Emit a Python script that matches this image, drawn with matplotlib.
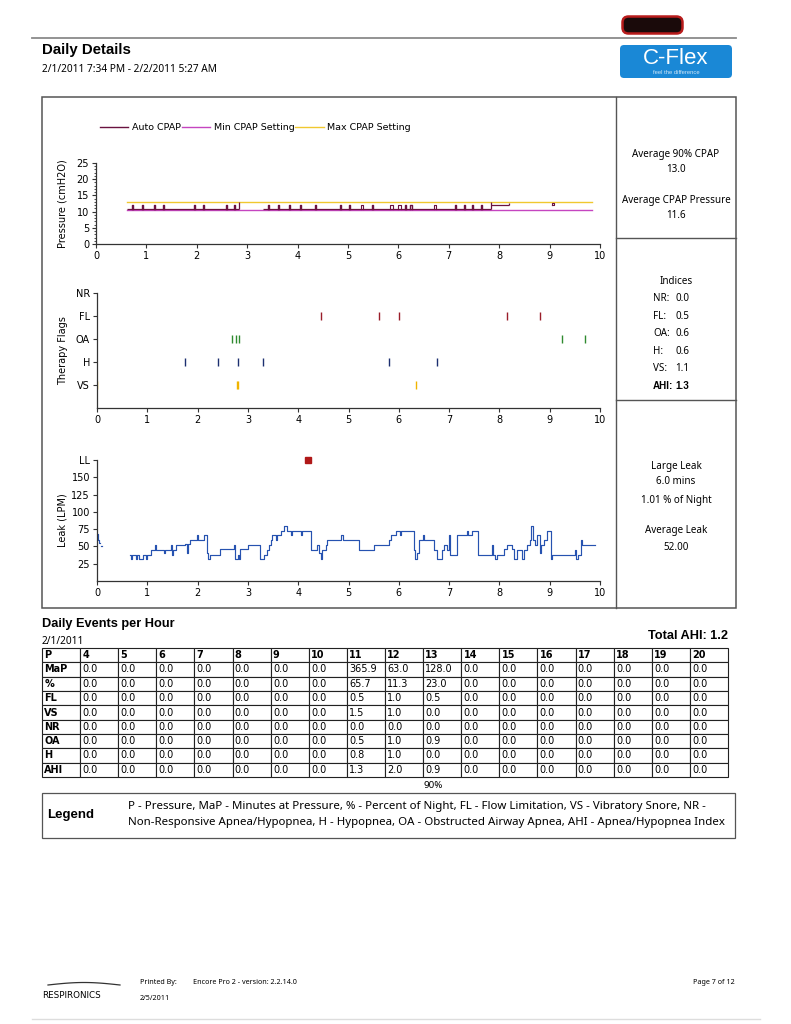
import numpy as np
import matplotlib.pyplot as plt
from matplotlib.patches import Rectangle, FancyBboxPatch
from matplotlib.ticker import MultipleLocator

plt.rcParams['font.family'] = ['DejaVu Sans']

# ---------------- data ----------------
hours = list(range(11))

# pressure chart (cmH2O)
auto_start = [0.62, 3.32]
auto_end = [2.83, 7.83]
auto_level = 10.9
auto_spikes = [0.72, 0.91, 1.15, 1.32, 1.95, 2.13, 2.58, 2.74, 3.42, 3.62,
               3.82, 4.05, 4.35, 4.85, 5.01, 5.48, 6.14, 6.24, 7.13, 7.30,
               7.46, 7.63]
auto_squares = [5.25, 5.84, 6.00, 6.70]
spike_top = 11.9
auto_rises = [2.83, 7.83]
rise_top = 13.0
high_start, high_end, high_level = 7.83, 8.19, 12.0
late_square = 9.05
min_setting = 10.4
max_setting = 13.0
setting_start, setting_end = 0.62, 9.85

# therapy flags (hours)
flag_names = ["VS", "H", "OA", "FL", "NR"]
flag_times = {
    "VS": [0.0, 2.78, 2.80, 6.35],
    "H": [1.75, 2.40, 2.80, 3.30, 5.80, 6.75],
    "OA": [2.68, 2.77, 2.82, 9.25, 9.70],
    "FL": [4.45, 5.60, 6.00, 8.15, 8.80],
    "NR": [],
}
flag_colors = {"VS": "#f0b400", "H": "#1c2f70", "OA": "#2f8a2f",
               "FL": "#9a1e2a", "NR": "#444444"}

# leak (LPM), step points
leak_t = [0.00, 0.02, 0.04, 0.06, 0.08, 0.10,
          0.65, 0.68, 0.70, 0.78, 0.80, 0.83, 0.92, 0.98, 1.00, 1.08, 1.15,
          1.17, 1.33, 1.36, 1.48, 1.50, 1.52, 1.58, 1.75, 1.78, 1.80, 1.85,
          1.98, 2.00, 2.13, 2.18, 2.20, 2.25, 2.45, 2.72, 2.75, 2.80, 2.82,
          2.85, 3.00, 3.25, 3.33, 3.37, 3.42, 3.45, 3.48, 3.55, 3.58, 3.65,
          3.72, 3.78, 3.85, 3.88, 4.05, 4.08, 4.25, 4.38, 4.42, 4.45, 4.48,
          4.55, 4.58, 4.85, 4.90, 5.20, 5.50, 5.80, 5.85, 5.95, 6.02, 6.05,
          6.30, 6.33, 6.36, 6.40, 6.48, 6.50, 6.70, 6.75, 6.85, 6.90, 6.95,
          7.00, 7.02, 7.15, 7.35, 7.38, 7.45, 7.58, 7.85, 7.88, 7.92, 7.95,
          8.10, 8.15, 8.25, 8.30, 8.35, 8.45, 8.48, 8.55, 8.60, 8.63, 8.66,
          8.70, 8.75, 8.80, 8.83, 8.88, 8.95, 9.02, 9.05, 9.50, 9.53, 9.56,
          9.63, 9.65, 9.90]
leak_v = [68, 60, 55, np.nan, 50, np.nan,
          38, 32, 38, 32, 38, 32, 38, 32, 38, 45, 52,
          45, 40, 45, 52, 38, 45, 52, 53, 40, 53, 60,
          67, 60, 67, 40, 32, 38, 46, 52, 32, 38, 32,
          46, 52, 32, 38, 45, 52, 60, 67, 60, 67, 73,
          80, 73, 67, 73, 67, 73, 45, 52, 40, 32, 45,
          52, 60, 67, 60, 45, 52, 60, 67, 73, 67, 73,
          45, 32, 40, 60, 67, 60, 45, 32, 45, 52, 45,
          67, 38, 67, 73, 67, 73, 38, 52, 38, 32, 38,
          46, 52, 46, 32, 45, 32, 45, 52, 60, 80, 60,
          52, 67, 40, 52, 60, 73, 32, 38, 45, 32, 38,
          60, 52, 52]
large_leak_t = [4.20]
large_leak_level = 175

# right column summaries
pressure_stats = [("Average 90% CPAP", "13.0"), ("Average CPAP Pressure", "11.6")]
indices = [("NR:", "0.0"), ("FL:", "0.5"), ("OA:", "0.6"), ("H:", "0.6"),
           ("VS:", "1.1"), ("AHI:", "1.3")]
leak_stats = ["Large Leak", "6.0 mins", "1.01 % of Night", "Average Leak", "52.00"]

# events per hour table
pressures = list(range(4, 21))
row_names = ["MaP", "%", "FL", "VS", "NR", "OA", "H", "AHI"]
zeros7 = [0.0] * 7
map_minutes = zeros7 + [365.9, 63.0, 128.0] + zeros7
pct_night = zeros7 + [65.7, 11.3, 23.0] + zeros7
fl_rate = zeros7 + [0.5, 1.0, 0.5] + zeros7
vs_rate = zeros7 + [1.5, 1.0, 0.0] + zeros7
nr_rate = zeros7 + [0.0, 0.0, 0.0] + zeros7
oa_rate = zeros7 + [0.5, 1.0, 0.9] + zeros7
h_rate = zeros7 + [0.8, 1.0, 0.0] + zeros7
ahi_rate = zeros7 + [1.3, 2.0, 0.9] + zeros7
total_ahi = 1.2

W, H = 791, 1024
fig = plt.figure(figsize=(W / 100, H / 100), dpi=100)

# page layer in pixel coordinates
page = fig.add_axes([0, 0, 1, 1])
page.set_xlim(0, W)
page.set_ylim(H, 0)
page.axis('off')

head = 'Liberation Sans'
body = 'Noto Sans'
page.plot([32, 736], [38, 38], color='#8a8a8a', lw=1.3)
page.add_patch(FancyBboxPatch((625, 19), 55, 12, boxstyle='round,pad=2.5,rounding_size=6',
                              fc='#1a0a0a', ec='#b81c1c', lw=1.8))
page.text(42, 50, "Daily Details", fontsize=10.8, fontweight='bold', family=head, va='center')
page.text(42, 70, "2/1/2011 7:34 PM - 2/2/2011 5:27 AM", fontsize=7.3, family=body, va='center')
page.add_patch(FancyBboxPatch((620, 45), 112, 33, boxstyle='round,pad=0,rounding_size=4',
                              fc='#1a88d6', ec='none'))
page.text(676, 58, "C-Flex", fontsize=16, color='white', ha='center', va='center', family=head)
page.text(676, 72, "feel the difference", fontsize=4.2, color='#cfe6f7', ha='center', va='center', family=head)

# main box
page.add_patch(Rectangle((42, 97), 694, 511, fill=False, ec='#555555', lw=1.1))
page.plot([616, 616], [97, 608], color='#555555', lw=1.0)
page.plot([616, 736], [238, 238], color='#555555', lw=1.0)
page.plot([616, 736], [400, 400], color='#555555', lw=1.0)

cx = 676
fs_r = 7.1
page.text(cx, 155, pressure_stats[0][0], ha='center', va='center', fontsize=fs_r, family=body)
page.text(cx, 170, pressure_stats[0][1], ha='center', va='center', fontsize=fs_r, family=body)
page.text(cx, 200, pressure_stats[1][0], ha='center', va='center', fontsize=fs_r, family=body)
page.text(cx, 216, pressure_stats[1][1], ha='center', va='center', fontsize=fs_r, family=body)

page.text(cx, 282, "Indices", ha='center', va='center', fontsize=fs_r, family=body)
for i, (k, v) in enumerate(indices):
    yb = 301 + i * 17.6
    if k == "AHI:":
        fam, w = head, 'bold'
    else:
        fam, w = body, 'normal'
    page.text(653, yb, k, ha='left', va='baseline', fontsize=fs_r, family=fam, fontweight=w)
    page.text(675, yb, v, ha='left', va='baseline', fontsize=fs_r, family=fam, fontweight=w)

for txt, y in zip(leak_stats, [467, 482, 500, 531, 548]):
    page.text(cx, y, txt, ha='center', va='center', fontsize=fs_r, family=body)


def style_axis(ax):
    ax.set_facecolor('none')
    for s in ['top', 'right']:
        ax.spines[s].set_visible(False)
    for s in ['left', 'bottom']:
        ax.spines[s].set_color('#333333')
        ax.spines[s].set_linewidth(0.9)
    ax.set_xlim(0, 10)
    ax.set_xticks(hours)
    ax.tick_params(labelsize=7, length=3, width=0.8, color='#333333', pad=2)


x0, x1 = 96 / W, 600 / W

# ---- pressure chart ----
ax1 = fig.add_axes([x0, 1 - 244 / H, x1 - x0, 81 / H])
style_axis(ax1)
ax1.set_ylim(0, 25)
ax1.set_yticks([0, 5, 10, 15, 20, 25])
ax1.yaxis.set_minor_locator(MultipleLocator(1))
ax1.tick_params(axis='y', which='minor', length=1.5, width=0.6, color='#333333')

auto_col, min_col, max_col = '#6a1240', '#c545c0', '#f0c830'
l_max, = ax1.plot([setting_start, setting_end], [max_setting] * 2, color=max_col, lw=1.0)
l_min, = ax1.plot([setting_start, setting_end], [min_setting] * 2, color=min_col, lw=1.0)
ax1.hlines([auto_level] * len(auto_start), auto_start, auto_end, color=auto_col, lw=0.9)
for t in auto_spikes:
    ax1.plot([t, t, t + 0.02, t + 0.02], [auto_level, spike_top, spike_top, auto_level],
             color=auto_col, lw=1.0)
for t in auto_squares:
    ax1.plot([t, t, t + 0.05, t + 0.05], [auto_level, spike_top, spike_top, auto_level],
             color=auto_col, lw=0.8)
ax1.vlines(auto_rises, auto_level, rise_top, color=auto_col, lw=0.9)
ax1.hlines(high_level, high_start, high_end, color=auto_col, lw=0.9)
ax1.vlines(high_end, high_level, rise_top - 0.2, color=auto_col, lw=0.9)
ax1.plot([late_square, late_square, late_square + 0.04, late_square + 0.04, late_square],
         [high_level, high_level + 0.6, high_level + 0.6, high_level, high_level],
         color=auto_col, lw=0.8)
l_auto, = ax1.plot([], [], color=auto_col, lw=1.0)
ax1.set_ylabel("Pressure (cmH2O)", fontsize=7)
ax1.yaxis.set_label_coords(-0.056, 0.5)
fig.legend([l_auto, l_min, l_max], ["Auto CPAP", "Min CPAP Setting", "Max CPAP Setting"],
           loc='center left', bbox_to_anchor=(91 / W, 1 - 128 / H), ncol=3, frameon=False,
           fontsize=6.8, handlelength=3.0, handletextpad=0.4, columnspacing=0.1)

# ---- therapy flags ----
ax2 = fig.add_axes([x0 + 1 / W, 1 - 408 / H, x1 - x0 - 1 / W, 115 / H])
style_axis(ax2)
ax2.set_ylim(0, 5)
ax2.set_yticks(range(1, 6))
ax2.set_yticklabels(flag_names)
for i, name in enumerate(flag_names):
    if flag_times[name]:
        ax2.vlines(flag_times[name], i + 1 - 0.17, i + 1 + 0.17, color=flag_colors[name], lw=1.0)
ax2.set_ylabel("Therapy Flags", fontsize=7)
ax2.yaxis.set_label_coords(-0.058, 0.5)

# ---- leak ----
ax3 = fig.add_axes([x0 + 1 / W, 1 - 581 / H, x1 - x0 - 1 / W, 121 / H])
style_axis(ax3)
ax3.set_ylim(0, 175)
ax3.set_yticks([25, 50, 75, 100, 125, 150, 175])
ax3.set_yticklabels(["25", "50", "75", "100", "125", "150", "LL"])
ax3.step(leak_t, leak_v, where='post', color='#2652b0', lw=0.85)
ax3.plot(large_leak_t, [large_leak_level] * len(large_leak_t), 's', color='#b01818',
         markersize=4.5, clip_on=False)
ax3.set_ylabel("Leak (LPM)", fontsize=7)
ax3.yaxis.set_label_coords(-0.058, 0.5)

# ---- events per hour table ----
page.text(42, 624, "Daily Events per Hour", fontsize=9.2, fontweight='bold', family=head, va='center')
page.text(42, 641, "2/1/2011", fontsize=7.3, family=body, va='center')
page.text(728, 636, "Total AHI: %.1f" % total_ahi, fontsize=9.2, fontweight='bold', family=head,
          ha='right', va='center')

rows = [["P"] + [str(p) for p in pressures]]
for name, vals in zip(row_names, [map_minutes, pct_night, fl_rate, vs_rate, nr_rate,
                                  oa_rate, h_rate, ahi_rate]):
    rows.append([name] + ["%.1f" % v for v in vals])

tab_ax = fig.add_axes([42 / W, 1 - 777 / H, (728 - 42) / W, (777 - 648) / H])
tab_ax.axis('off')
tab = tab_ax.table(cellText=rows, cellLoc='left', bbox=[0, 0, 1, 1])
tab.auto_set_font_size(False)
for (r, c), cell in tab.get_celld().items():
    cell.set_edgecolor('#222222')
    cell.set_linewidth(0.8)
    cell.PAD = 0.06
    cell.get_text().set_fontsize(7)
    if r == 0 or c == 0:
        cell.get_text().set_fontweight('bold')

page.text(424, 786, "90%", fontsize=7, family=body, va='center')

# legend box
page.add_patch(Rectangle((42, 793), 693, 45, fill=False, ec='#555555', lw=0.9))
page.text(47, 815, "Legend", fontsize=9.5, fontweight='bold', family=head, va='center')
page.text(128, 806, "P - Pressure, MaP - Minutes at Pressure, % - Percent of Night, FL - Flow Limitation, "
          "VS - Vibratory Snore, NR -", fontsize=8.25, family=body, va='center')
page.text(128, 823, "Non-Responsive Apnea/Hypopnea, H - Hypopnea, OA - Obstructed Airway Apnea, "
          "AHI - Apnea/Hypopnea Index", fontsize=8.25, family=body, va='center')

# footer
sx = np.linspace(48, 120, 30)
page.plot(sx, 985 - 2.5 * np.sin((sx - 48) / 72 * np.pi), color='#333333', lw=0.9)
page.text(42, 995, "RESPIRONICS", fontsize=6.3, va='center')
page.text(140, 983, "Printed By:", fontsize=5.2, family=body, va='center')
page.text(193, 983, "Encore Pro 2 - version: 2.2.14.0", fontsize=5.2, family=body, va='center')
page.text(140, 998, "2/5/2011", fontsize=5.2, family=body, va='center')
page.text(735, 983, "Page 7 of 12", fontsize=5.2, family=body, va='center', ha='right')
page.plot([32, 760], [1019, 1019], color='#dddddd', lw=1.0)

fig.savefig("out.png", dpi=100)
